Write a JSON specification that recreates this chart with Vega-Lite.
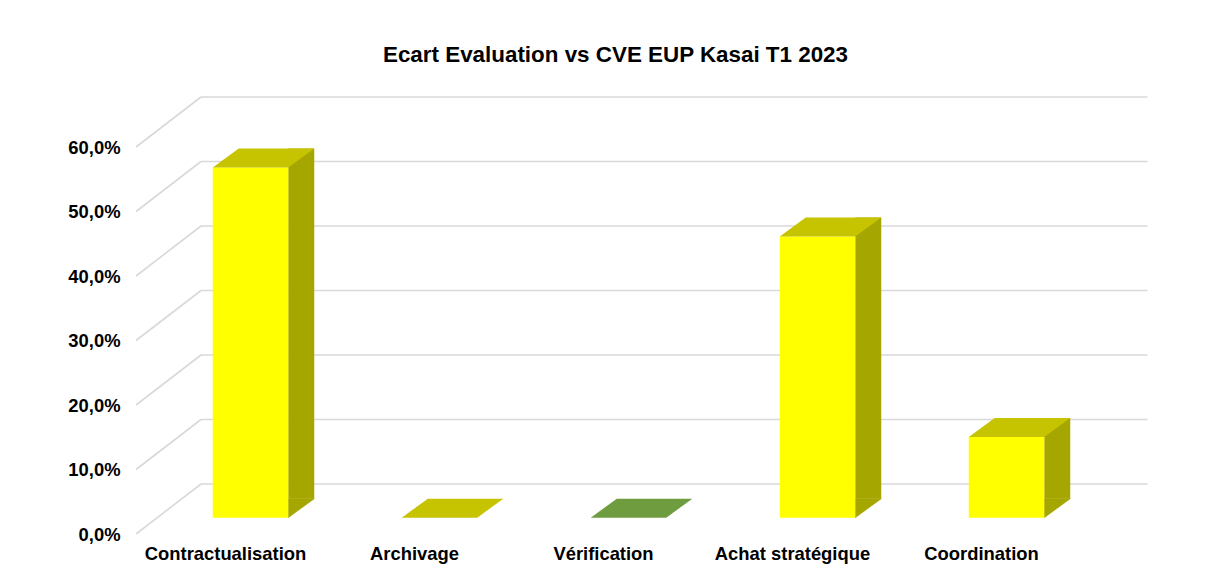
{
  "$schema": "https://vega.github.io/schema/vega-lite/v6.json",
  "width": 945,
  "height": 387,
  "autosize": {"type": "none"},
  "padding": {"left": 131, "top": 147, "right": 132, "bottom": 46},
  "background": "white",
  "title": {
    "text": "Ecart Evaluation vs CVE EUP Kasai T1 2023",
    "font": "Liberation Sans",
    "fontSize": 22.4,
    "fontWeight": "bold",
    "color": "#000000",
    "anchor": "middle",
    "frame": "group",
    "dx": 12,
    "dy": -30,
    "offset": 0
  },
  "datasets": {
    "bars": [
      {"categorie": "Contractualisation", "ecart": 0.543, "statut": "ecart"},
      {"categorie": "Archivage", "ecart": 0, "statut": "ecart"},
      {"categorie": "Vérification", "ecart": 0, "statut": "conforme"},
      {"categorie": "Achat stratégique", "ecart": 0.436, "statut": "ecart"},
      {"categorie": "Coordination", "ecart": 0.125, "statut": "ecart"}
    ],
    "grid": [
      {"v": 0}, {"v": 0.1}, {"v": 0.2}, {"v": 0.3}, {"v": 0.4}, {"v": 0.5}, {"v": 0.6}
    ]
  },
  "layer": [
    {
      "data": {"name": "bars"},
      "mark": {"type": "bar", "width": 75.5, "opacity": 0},
      "encoding": {
        "x": {
          "field": "categorie",
          "type": "nominal",
          "sort": null,
          "title": null,
          "scale": {"domain": ["Contractualisation", "Archivage", "Vérification", "Achat stratégique", "Coordination"], "paddingInner": 0, "paddingOuter": 0}
        },
        "y": {
          "field": "ecart",
          "type": "quantitative",
          "title": null,
          "scale": {"domain": [0, 0.6], "nice": false},
          "axis": {"values": [0, 0.1, 0.2, 0.3, 0.4, 0.5, 0.6], "labelExpr": "replace(format(datum.value, '.1%'), '.', ',')"}
        }
      }
    },
    {
      "data": {"name": "grid"},
      "mark": {"type": "rule", "color": "#d9d9d9", "strokeWidth": 1.6, "xOffset": 5, "x2Offset": 70, "y2Offset": -50},
      "encoding": {
        "x": {"datum": "Contractualisation", "bandPosition": 0},
        "x2": {"datum": "Contractualisation", "bandPosition": 0},
        "y": {"field": "v", "type": "quantitative", "title": null},
        "y2": {"field": "v"}
      }
    },
    {
      "data": {"name": "grid"},
      "mark": {"type": "rule", "color": "#d9d9d9", "strokeWidth": 1.6, "xOffset": 70, "x2Offset": 71.5, "yOffset": -50},
      "encoding": {
        "x": {"datum": "Contractualisation", "bandPosition": 0},
        "x2": {"datum": "Coordination", "bandPosition": 1},
        "y": {"field": "v", "type": "quantitative", "title": null}
      }
    },
    {
      "data": {"name": "bars"},
      "mark": {"type": "bar", "width": 26, "xOffset": 75.75, "yOffset": -35.3, "y2Offset": -35.3},
      "encoding": {
        "x": {"field": "categorie", "type": "nominal", "sort": null, "title": null},
        "y": {"field": "ecart", "type": "quantitative", "title": null},
        "color": {"condition": {"test": "datum.statut === 'conforme'", "value": "#557a30"}, "value": "#a6a600"}
      }
    },
    {
      "data": {"name": "bars"},
      "transform": [{"filter": "datum.ecart > 0"}],
      "mark": {"type": "point", "shape": "M62.75,-16.3L62.75,-35.3L88.75,-35.3Z", "size": 4, "filled": true, "opacity": 1, "strokeWidth": 0.6},
      "encoding": {
        "x": {"field": "categorie", "type": "nominal", "sort": null, "title": null},
        "y": {"datum": 0, "type": "quantitative"},
        "color": {"condition": {"test": "datum.statut === 'conforme'", "value": "#557a30"}, "value": "#a6a600"},
        "stroke": {"condition": {"test": "datum.statut === 'conforme'", "value": "#557a30"}, "value": "#a6a600"}
      }
    },
    {
      "data": {"name": "bars"},
      "mark": {"type": "bar", "width": 75.5, "xOffset": 25, "yOffset": -16.3, "y2Offset": -16.3},
      "encoding": {
        "x": {"field": "categorie", "type": "nominal", "sort": null, "title": null},
        "y": {"field": "ecart", "type": "quantitative", "title": null},
        "color": {"condition": {"test": "datum.statut === 'conforme'", "value": "#70ad47"}, "value": "#ffff00"}
      }
    },
    {
      "data": {"name": "bars"},
      "mark": {"type": "point", "shape": "M-12.75,-16.3L62.75,-16.3L88.75,-35.3L13.25,-35.3Z", "size": 4, "filled": true, "opacity": 1, "strokeWidth": 0},
      "encoding": {
        "x": {"field": "categorie", "type": "nominal", "sort": null, "title": null},
        "y": {"field": "ecart", "type": "quantitative", "title": null},
        "color": {"condition": {"test": "datum.statut === 'conforme'", "value": "#6f9c3f"}, "value": "#c6c300"}
      }
    }
  ],
  "config": {
    "view": {"stroke": null},
    "axisX": {
      "labelFont": "Liberation Sans",
      "labelFontSize": 18.4,
      "labelFontWeight": "bold",
      "labelColor": "#000000",
      "labelAngle": 0,
      "labelPadding": 10,
      "domain": false,
      "ticks": false,
      "grid": false
    },
    "axisY": {
      "labelFont": "Liberation Sans",
      "labelFontSize": 18.4,
      "labelFontWeight": "bold",
      "labelColor": "#000000",
      "labelPadding": 11,
      "domain": false,
      "ticks": false,
      "grid": false
    }
  }
}
